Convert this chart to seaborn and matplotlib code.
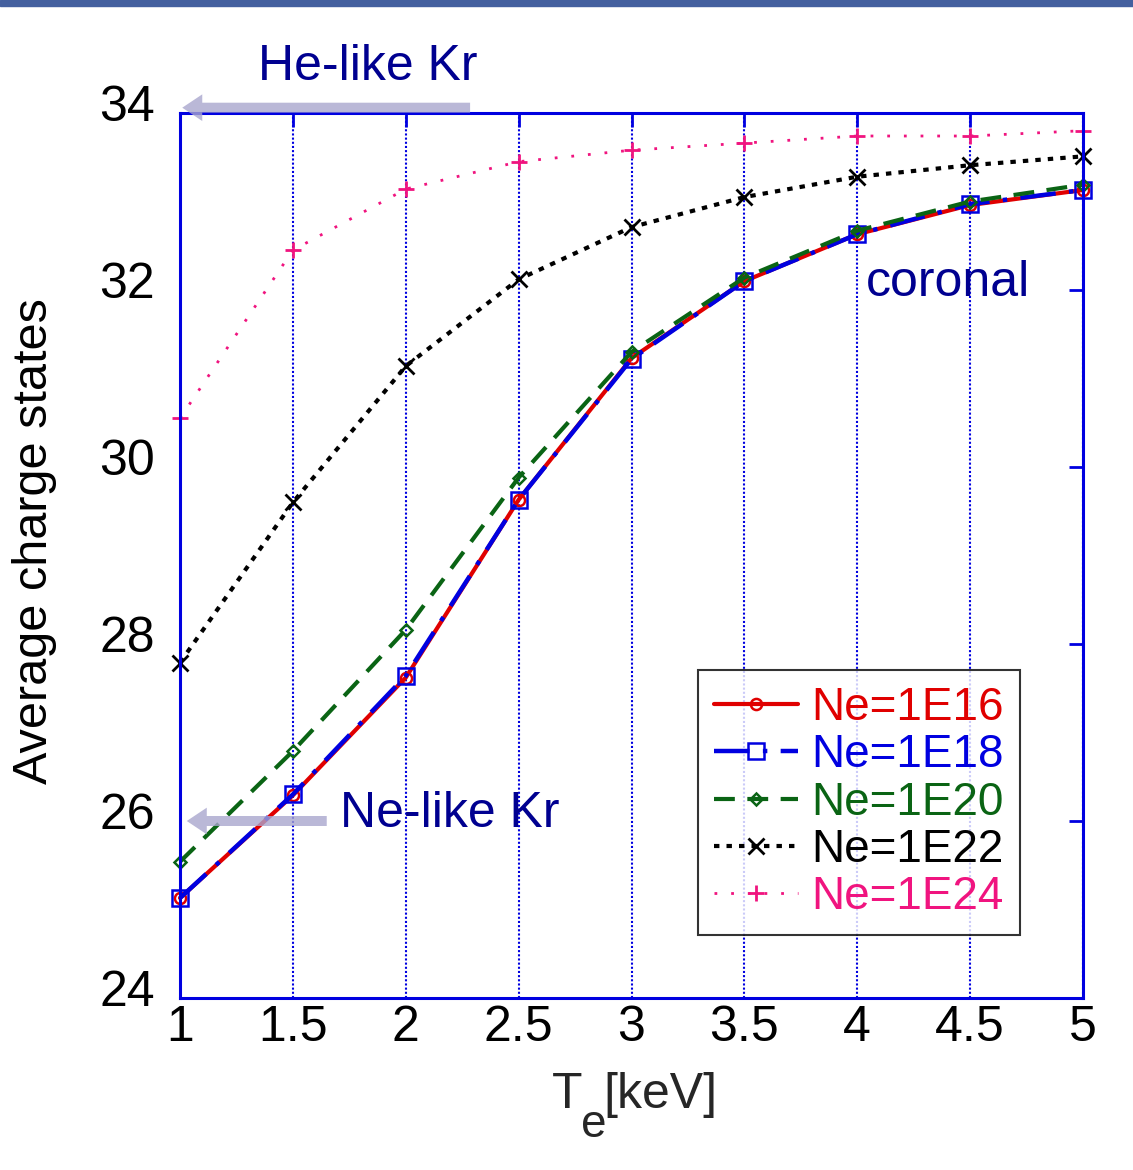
import matplotlib
matplotlib.use("Agg")
import matplotlib.pyplot as plt
import matplotlib.transforms as mtransforms
import seaborn as sns
import pandas as pd
from matplotlib.patches import Rectangle

sns.set_theme(style="white")
plt.rcParams['font.family'] = ['Liberation Sans', 'DejaVu Sans']

te = [1.0, 1.5, 2.0, 2.5, 3.0, 3.5, 4.0, 4.5, 5.0]
ne16 = [25.13, 26.29, 27.62, 29.63, 31.23, 32.10, 32.63, 32.96, 33.13]
ne18 = [25.13, 26.30, 27.64, 29.63, 31.22, 32.10, 32.63, 32.97, 33.13]
ne20 = [25.54, 26.79, 28.16, 29.88, 31.30, 32.14, 32.67, 33.00, 33.19]
ne22 = [27.79, 29.60, 31.14, 32.12, 32.71, 33.05, 33.28, 33.41, 33.51]
ne24 = [30.55, 32.45, 33.14, 33.45, 33.58, 33.66, 33.74, 33.74, 33.80]
labels = ["Ne=1E16", "Ne=1E18", "Ne=1E20", "Ne=1E22", "Ne=1E24"]
xtick_labels = ["1", "1.5", "2", "2.5", "3", "3.5", "4", "4.5", "5"]
yticks = [24, 26, 28, 30, 32, 34]
colors = ["#E00000", "#0000E0", "#0A6414", "#000000", "#F0147F"]
navy = "#000090"

fig = plt.figure(figsize=(11.33, 11.70), dpi=100)
fig.patches.append(Rectangle((0, 1 - 6/1170), 1, 6/1170, transform=fig.transFigure,
                             color="#44609F", zorder=0))
ax = fig.add_axes([180/1133, 1 - 998/1170, 903/1133, 885/1170])

styles = [
    dict(ls='-', marker='o', ms=8, lw=3),
    dict(ls=(0, (8, 3, 1, 3)), marker='s', ms=12, lw=3.2),
    dict(ls=(0, (5, 3)), marker='D', ms=6, lw=3),
    dict(ls=(0, (1.3, 1.7)), marker='x', ms=12, lw=3, mew=2),
    dict(ls=(0, (1, 5)), marker='+', ms=12, lw=2, mew=2),
]
series = [ne16, ne18, ne20, ne22, ne24]
for vals, lab, col, st in zip(series, labels, colors, styles):
    df = pd.DataFrame({"Te": te, "Z": vals})
    sns.lineplot(data=df, x="Te", y="Z", ax=ax, color=col, linestyle=st['ls'],
                 linewidth=st['lw'], marker=st['marker'], markersize=st['ms'],
                 markerfacecolor='none', markeredgecolor=col,
                 markeredgewidth=st.get('mew', 1.8), label=lab, clip_on=False)

ax.set_xlim(1, 5)
ax.set_ylim(24, 34)
ax.set_xticks(te)
ax.set_xticklabels(xtick_labels)
ax.set_yticks(yticks)
ax.tick_params(axis='both', direction='in', length=10, width=2, color='#0000E0',
               labelsize=36, labelcolor='black', top=True, right=True)
ax.tick_params(axis='y', pad=18)
ax.tick_params(axis='x', pad=5)
ax.xaxis.grid(True, color='#0000E0', linestyle=(0, (1, 1)), linewidth=1.5)
ax.yaxis.grid(False)
for s in ax.spines.values():
    s.set_color('#0000E0')
    s.set_linewidth(2.2)
shift = mtransforms.ScaledTranslation(0, 10/100, fig.dpi_scale_trans)
for lbl in ax.get_yticklabels():
    lbl.set_transform(lbl.get_transform() + shift)

ax.set_ylabel("")
ax.set_xlabel("")
fig.text(35/1133, 1 - 541/1170, "Average charge states", fontsize=35, rotation=90,
         ha='center', va='center', color='black')
fig.text(552/1133, 1 - 1108/1170, "T", fontsize=36, ha='left', va='baseline')
fig.text(581/1133, 1 - 1137/1170, "e", fontsize=33, ha='left', va='baseline')
fig.text(603/1133, 1 - 1108/1170, "[keV]", fontsize=36, ha='left', va='baseline')

leg = ax.legend(loc='lower right', bbox_to_anchor=(0.93, 0.071), fontsize=33,
                frameon=True, fancybox=False, edgecolor='black', handlelength=1.85,
                handletextpad=0.28, borderpad=0.35, labelspacing=0.07, borderaxespad=0)
leg.get_frame().set_linewidth(1.5)
for t, c in zip(leg.get_texts(), colors):
    t.set_color(c)

arrow_kw = dict(arrowstyle='simple,head_length=1.2,head_width=1.6,tail_width=0.6',
                color='#A9A6CE', alpha=0.8, lw=0, shrinkA=0, shrinkB=0)
ax.annotate("", xy=(1.01, 34.06), xytext=(2.285, 34.06), arrowprops=arrow_kw,
            annotation_clip=False)
ax.annotate("", xy=(1.03, 26.0), xytext=(1.65, 26.0), arrowprops=arrow_kw,
            annotation_clip=False)

ax.text(1.345, 34.52, "He-like Kr", fontsize=36, color=navy, ha='left', va='center',
        clip_on=False)
ax.text(1.71, 26.08, "Ne-like Kr", fontsize=36, color=navy, ha='left', va='center')
ax.text(4.04, 32.08, "coronal", fontsize=36, color=navy, ha='left', va='center')

fig.savefig("out.png", dpi=100)
